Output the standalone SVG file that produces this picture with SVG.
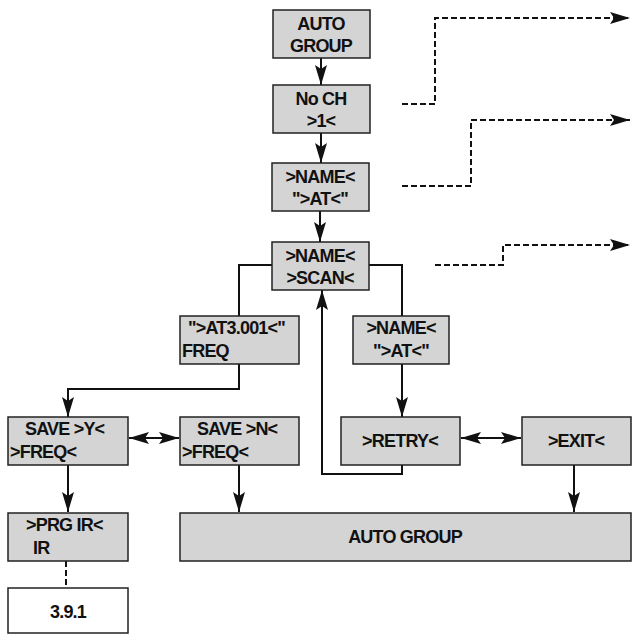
<svg xmlns="http://www.w3.org/2000/svg" width="634" height="637" viewBox="0 0 634 637">
<style>
.b{fill:#d4d4d4;stroke:#222;stroke-width:1.5}
.w{fill:#fff;stroke:#222;stroke-width:1.5}
text{font-family:"Liberation Sans",Arial,sans-serif;font-weight:bold;font-size:18px;fill:#111;letter-spacing:-0.8px}
.c{text-anchor:middle}
.l{fill:none;stroke:#111;stroke-width:2}
.d{fill:none;stroke:#111;stroke-width:2;stroke-dasharray:6,3}
</style>
<defs>
<marker id="a" viewBox="0 0 10 10" refX="10" refY="5" markerWidth="10" markerHeight="10" orient="auto-start-reverse" markerUnits="strokeWidth"><path d="M0,2L10,5L0,8L2,5z" fill="#111"/></marker>
</defs>
<g id="connectors">
<path class="l" d="M321,58V85" marker-end="url(#a)"/>
<path class="l" d="M321,133V163" marker-end="url(#a)"/>
<path class="l" d="M320,211V242" marker-end="url(#a)"/>
<path class="l" d="M272,265H239V316"/>
<path class="l" d="M369,265H402V316"/>
<path class="l" d="M239,364V389H68V417" marker-end="url(#a)"/>
<path class="l" d="M402,364V417" marker-end="url(#a)"/>
<path class="l" d="M402,465V474H322V290" marker-end="url(#a)"/>
<path class="l" d="M129,438H179" marker-start="url(#a)" marker-end="url(#a)"/>
<path class="l" d="M461,438H521" marker-start="url(#a)" marker-end="url(#a)"/>
<path class="l" d="M68,465V512" marker-end="url(#a)"/>
<path class="l" d="M239,465V512" marker-end="url(#a)"/>
<path class="l" d="M574,465V512" marker-end="url(#a)"/>
<path class="d" d="M66,561V588"/>
<path class="d" d="M402,104H435V18H630" marker-end="url(#a)"/>
<path class="d" d="M402,186H471V120H630" marker-end="url(#a)"/>
<path class="d" d="M435,265H503V245H630" marker-end="url(#a)"/>
</g>
<g id="n1"><rect class="b" x="273" y="10" width="97" height="48"/><text class="c" x="321" y="30">AUTO</text><text class="c" x="321" y="52">GROUP</text></g>
<g id="n2"><rect class="b" x="273" y="85" width="97" height="48"/><text class="c" x="321" y="105">No CH</text><text class="c" x="321" y="127">&gt;1&lt;</text></g>
<g id="n3"><rect class="b" x="272" y="163" width="97" height="48"/><text class="c" x="320" y="183">&gt;NAME&lt;</text><text class="c" x="320" y="205">"&gt;AT&lt;"</text></g>
<g id="n4"><rect class="b" x="272" y="242" width="97" height="48"/><text class="c" x="320" y="262">&gt;NAME&lt;</text><text class="c" x="320" y="284">&gt;SCAN&lt;</text></g>
<g id="n5"><rect class="b" x="180" y="316" width="119" height="48"/><text x="188" y="334">"&gt;AT3.001&lt;"</text><text x="182" y="357">FREQ</text></g>
<g id="n6"><rect class="b" x="353" y="316" width="96" height="48"/><text class="c" x="401" y="334">&gt;NAME&lt;</text><text class="c" x="401" y="357">"&gt;AT&lt;"</text></g>
<g id="n7"><rect class="b" x="8" y="417" width="120" height="48"/><text x="25" y="435">SAVE &gt;Y&lt;</text><text x="10" y="458">&gt;FREQ&lt;</text></g>
<g id="n8"><rect class="b" x="180" y="417" width="119" height="48"/><text x="197" y="435">SAVE &gt;N&lt;</text><text x="182" y="458">&gt;FREQ&lt;</text></g>
<g id="n9"><rect class="b" x="341" y="417" width="119" height="48"/><text class="c" x="400" y="447">&gt;RETRY&lt;</text></g>
<g id="n10"><rect class="b" x="522" y="417" width="109" height="48"/><text class="c" x="576" y="447">&gt;EXIT&lt;</text></g>
<g id="n11"><rect class="b" x="8" y="513" width="120" height="48"/><text x="26" y="531">&gt;PRG IR&lt;</text><text x="33" y="554">IR</text></g>
<g id="n12"><rect class="b" x="180" y="513" width="451" height="48"/><text class="c" x="405" y="543">AUTO GROUP</text></g>
<g id="n13"><rect class="w" x="8" y="588" width="120" height="45"/><text class="c" x="68" y="618">3.9.1</text></g>
</svg>
